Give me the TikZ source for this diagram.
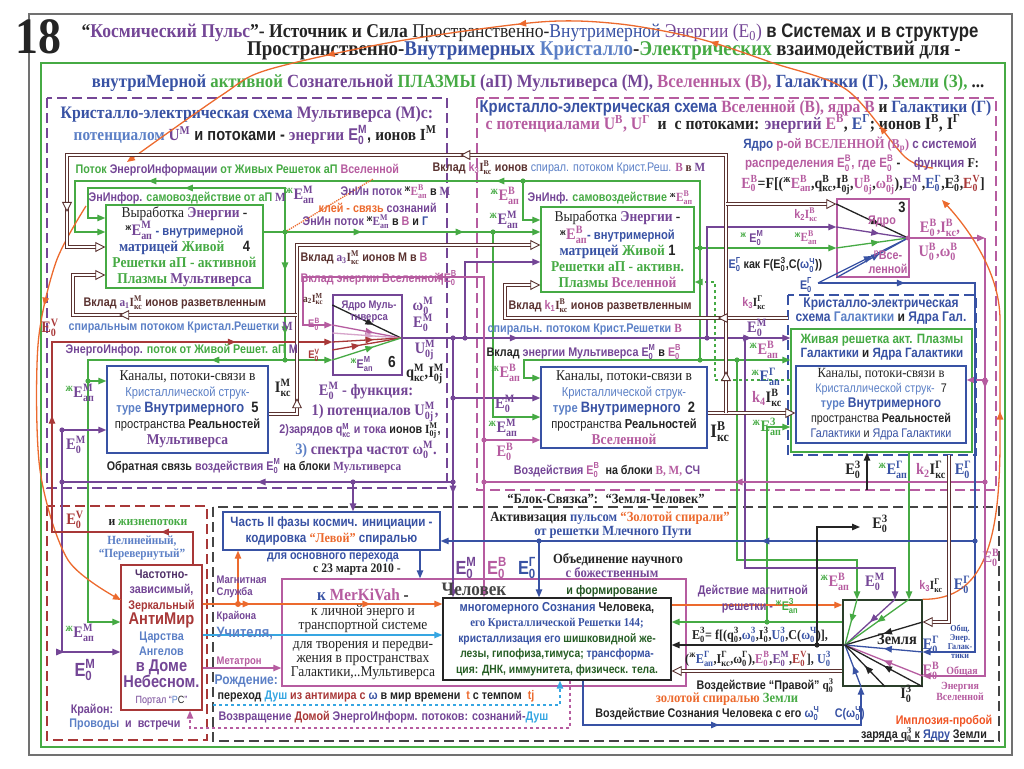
\documentclass[tikz,border=0pt]{standalone}
\usepackage{amsmath}
\usepackage{fontspec}
\setmainfont[FakeStretch=0.9]{Liberation Serif}
\setsansfont[FakeStretch=0.86]{Liberation Sans}
\usetikzlibrary{arrows.meta,decorations.markings}

\definecolor{mv}{RGB}{116,70,150}
\definecolor{vs}{RGB}{182,92,160}
\definecolor{gl}{RGB}{56,82,164}
\definecolor{kr}{RGB}{92,128,198}
\definecolor{zg}{RGB}{70,170,68}
\definecolor{br}{RGB}{90,50,48}
\definecolor{rt}{RGB}{168,56,56}
\definecolor{og}{RGB}{236,106,46}
\definecolor{cy}{RGB}{54,166,226}
\definecolor{dk}{RGB}{36,36,36}

\newcommand{\ee}[3]{\ensuremath{\textbf{#1}^{\textbf{#2}}_{\textbf{#3}}}}

\tikzset{
  lab/.style={inner sep=0.5pt,text=dk,font=\sffamily\bfseries\fontsize{12.5}{14}\selectfont},
  klein/.style={lab,font=\sffamily\bfseries\fontsize{11}{12}\selectfont},
  gross/.style={lab,font=\rmfamily\bfseries\fontsize{16}{17}\selectfont},
  box/.style={draw,line width=1.4pt,fill=white,inner sep=0pt,align=center,text=dk,font=\sffamily\bfseries\fontsize{13}{16}\selectfont},
  rahmen/.style={line width=1.3pt,dash pattern=on 10pt off 5pt},
  fl/.style={line width=1.3pt},
  spitze/.style={-{Triangle[length=8pt,width=6.5pt]}},
  mitte/.style={postaction={decorate,decoration={markings,mark=at position #1 with {\arrow{Triangle[length=8pt,width=6.5pt]}}}}},
  mitte/.default=0.5,
  dop/.style={draw=br,line width=0.9pt,double=white,double distance=2.2pt},
  dpf/.style={-{Triangle[fill=white,length=10pt,width=10pt,line width=0.9pt]}},
  dmitte/.style={postaction={decorate,decoration={markings,mark=at position #1 with {\arrow{Triangle[fill=white,length=10pt,width=10pt,line width=0.9pt]}}}}},
}

\begin{document}
\begin{tikzpicture}[x=1pt,y=-1pt]
\useasboundingbox (0,0) rectangle (1024,768);

% Rahmen
\draw[dk!65,line width=1.4pt] (29,14) rectangle (1012,755);
\draw[zg,line width=1.4pt] (41,63) rectangle (1005,747);
\draw[rahmen,mv] (47,98) rectangle (447,488);
\draw[rahmen,vs] (477,98) rectangle (996,490);
\draw[rahmen,gl] (788,295) rectangle (976,455);
\draw[rahmen,dk!85] (213,507) rectangle (999,741);
\draw[rahmen,rt] (47,506) rectangle (207,740);

% Kopf
\node[lab,font=\rmfamily\bfseries\fontsize{51}{51}\selectfont] (nummer) at (38,37) {18};
\node[lab,font=\rmfamily\bfseries\fontsize{19.5}{20}\selectfont] (titel) at (530,33) {“\textcolor{mv}{Космический Пульс}”- Источник и Сила {\mdseries Пространственно-\textcolor{gl}{Внутримерной} \textcolor{mv}{Энергии (E\textsubscript{0})}} {\sffamily в Системах и в структуре}};
\node[lab,font=\rmfamily\bfseries\fontsize{21}{21}\selectfont] (titelzwei) at (604,51) {Пространственно-\textcolor{gl}{Внутримерных} \textcolor{kr}{Кристалло}-\textcolor{zg}{Электрических} взаимодействий для -};
\node[lab,font=\rmfamily\bfseries\fontsize{18.6}{19}\selectfont] (plasma) at (538,83) {\textcolor{gl}{внутриМерной} \textcolor{zg}{активной} \textcolor{mv}{Сознательной} \textcolor{zg}{ПЛАЗМЫ} \textcolor{mv}{(аП) Мультиверса (М),} \textcolor{vs}{Вселенных (В),} \textcolor{gl}{Галактики (Г),} \textcolor{zg}{Земли (З),} ...};

% Ueberschriften
\node[lab,anchor=west,font=\rmfamily\bfseries\fontsize{17.5}{18}\selectfont] (kopfmulti) at (60,114) {\textcolor{gl}{Кристалло-электрическая схема} \textcolor{mv}{Мультиверса (М)с:}};
\node[lab,anchor=west,font=\sffamily\bfseries\fontsize{17}{18}\selectfont] (potmulti) at (73,135) {{\rmfamily\textcolor{kr}{потенциалом} \textcolor{mv}{U\textsuperscript{М}}} и потоками - {\rmfamily\textcolor{mv}{энергии}} \textcolor{mv}{\ee{E}{М}{0}}, {\rmfamily ионов \ee{I}{М}{}}};
\node[lab,anchor=west,font=\sffamily\bfseries\fontsize{17.2}{18}\selectfont] (kopfall) at (479,108) {\textcolor{gl}{Кристалло-электрическая схема} {\rmfamily\textcolor{vs}{Вселенной (В), ядра В} и \textcolor{gl}{Галактики (Г)}}};
\node[lab,anchor=west,font=\rmfamily\bfseries\fontsize{17.5}{18}\selectfont] (potall) at (485,124) {\textcolor{vs}{с потенциалами U\textsuperscript{В}, U\textsuperscript{Г}} \ и \ с потоками: \textcolor{mv}{энергий} \textcolor{vs}{\ee{E}{В}{}}, \textcolor{gl}{\ee{E}{Г}{}}; ионов \ee{I}{В}{}, \ee{I}{Г}{}};

% Bloecke
\node[box,draw=zg,minimum width=157pt,minimum height=83pt] (matrixmulti) at (184.5,246.5) {%
{\rmfamily\mdseries\fontsize{15}{16}\selectfont Выработка \bfseries\textcolor{mv}{Энергии} -}\\
{\textsuperscript{ж}{\rmfamily\fontsize{16}{16}\selectfont\textcolor{mv}{\ee{E}{М}{ап}}} \textcolor{gl}{- внутримерной}}\\
{\rmfamily\fontsize{15}{16}\selectfont\textcolor{gl}{матрицей} \textcolor{zg}{Живой} \quad{\sffamily 4}}\\
{\rmfamily\fontsize{15}{16}\selectfont\textcolor{zg}{Решетки аП - активной}}\\
{\rmfamily\fontsize{15}{16}\selectfont\textcolor{zg}{Плазмы} \textcolor{mv}{Мультиверса}}};
\node[box,draw=zg,minimum width=153pt,minimum height=85pt] (matrixall) at (617.5,249.5) {%
{\rmfamily\mdseries\fontsize{15}{16}\selectfont Выработка \bfseries\textcolor{mv}{Энергии} -}\\
{\textsuperscript{ж}{\rmfamily\fontsize{16}{16}\selectfont\textcolor{vs}{\ee{E}{В}{ап}}}\textcolor{gl}{- внутримерной}}\\
{\rmfamily\fontsize{15}{16}\selectfont\textcolor{gl}{матрицей} \textcolor{zg}{Живой} {\sffamily 1}}\\
{\rmfamily\fontsize{15}{16}\selectfont\textcolor{zg}{Решетки аП - активн.}}\\
{\rmfamily\fontsize{15}{16}\selectfont\textcolor{zg}{Плазмы} \textcolor{vs}{Вселенной}}};
\node[box,draw=vs,minimum width=72pt,minimum height=78pt] (kernall) at (873,238) {};
\node[box,draw=mv,minimum width=69pt,minimum height=80pt] (kernmulti) at (367.5,335) {};
\node[box,draw=gl,minimum width=161pt,minimum height=87pt] (kanalmulti) at (187.5,409.5) {%
{\rmfamily\mdseries\fontsize{15}{16}\selectfont Каналы, потоки-связи в}\\
{\mdseries\textcolor{kr}{Кристаллической струк-}}\\
{\textcolor{kr}{туре} \fontsize{15}{16}\selectfont\textcolor{gl}{Внутримерного} \ 5}\\
{\mdseries пространства \bfseries Реальностей}\\
{\rmfamily\fontsize{15}{16}\selectfont\textcolor{mv}{Мультиверса}}};
\node[box,draw=gl,minimum width=166pt,minimum height=81pt] (kanalall) at (624,407.5) {%
{\rmfamily\mdseries\fontsize{15}{16}\selectfont Каналы, потоки-связи в}\\
{\mdseries\textcolor{kr}{Кристаллической струк-}}\\
{\textcolor{kr}{туре} \fontsize{15}{16}\selectfont\textcolor{gl}{Внутримерного} \ 2}\\
{\mdseries пространства \bfseries Реальностей}\\
{\rmfamily\fontsize{15}{16}\selectfont\textcolor{vs}{Вселенной}}};
\node[box,draw=zg,minimum width=181pt,minimum height=123pt] (galaxie) at (881.5,390.5) {};
\node[box,draw=gl,minimum width=170pt,minimum height=77pt,font=\sffamily\bfseries\fontsize{12.5}{15}\selectfont] (kanalgal) at (881,404.5) {%
{\rmfamily\mdseries\fontsize{14}{15}\selectfont Каналы, потоки-связи в}\\
{\mdseries\textcolor{kr}{Кристаллической струк-} \ 7}\\
{\textcolor{kr}{туре} \fontsize{14}{15}\selectfont\textcolor{gl}{Внутримерного}}\\
{\mdseries пространства \bfseries Реальностей}\\
{\mdseries\textcolor{gl}{Галактики} и \textcolor{gl}{Ядра Галактики}}};
\node[box,draw=rt,minimum width=81pt,minimum height=145pt,font=\sffamily\bfseries\fontsize{12.5}{15.5}\selectfont] (antimir) at (161.5,637.5) {%
{\textcolor{mv!70!black}{Частотно-}}\\
{\textcolor{mv}{зависимый,}}\\
{\textcolor{rt}{Зеркальный}}\\
{\fontsize{17}{18}\selectfont\textcolor{rt}{АнтиМир}}\\
{\textcolor{kr}{Царства}}\\
{\textcolor{kr}{Ангелов}}\\
{\fontsize{17}{18}\selectfont\textcolor{mv}{в Доме}}\\
{\fontsize{17}{18}\selectfont\textcolor{mv}{Небесном.}}\\
{\fontsize{10.5}{11}\selectfont\mdseries\textcolor{mv}{Портал “\textcolor{kr}{P}\textcolor{dk}{C}”}}};
\node[box,draw=vs,fill=none,minimum width=404pt,minimum height=107pt] (merkivah) at (484,632.5) {};
\node[box,draw=dk,minimum width=228pt,minimum height=82pt,font=\sffamily\bfseries\fontsize{12}{15.5}\selectfont] (mensch) at (557,639) {%
{\fontsize{13}{15}\selectfont\textcolor{gl}{многомерного Сознания} Человека,}\\
{\rmfamily\textcolor{gl}{его Кристаллической Решетки 144;}}\\
{\textcolor{gl}{кристаллизация его} \textcolor{zg!55!black}{шишковидной же-}}\\
{\textcolor{zg!55!black}{лезы, гипофиза,тимуса;} \textcolor{gl}{трансформа-}}\\
{\textcolor{zg!55!black}{ция: ДНК, иммунитета, физическ. тела.}}};
\node[box,draw=gl,minimum width=217pt,minimum height=38pt,text=gl,font=\sffamily\bfseries\fontsize{13.5}{16}\selectfont] (phasezwei) at (331.5,531) {%
Часть II фазы космич. инициации -\\
кодировка {\rmfamily\textcolor{og}{“Левой”}} спиралью};
\node[box,draw=dk!80!zg,minimum width=79pt,minimum height=86pt] (erde) at (882.5,643) {};

% Koordinaten
\coordinate (kmk) at (401,338);
\coordinate (kvk) at (908,238);
\coordinate (zk) at (845,645);
\coordinate (gA) at (285,232);
\coordinate (gB) at (700,248);
\coordinate (gC) at (700,360);
\coordinate (gD) at (285,360);
\coordinate (gE) at (493,232);
\coordinate (gF) at (767,622);
\coordinate (gG) at (737,360);
\coordinate (gH) at (523,181);
\coordinate (mA) at (453,338);
\coordinate (mB) at (465,338);
\coordinate (mC) at (707,338);
\coordinate (mD) at (745,338);
\coordinate (mE) at (453,482);
\coordinate (mF) at (62,482);
\coordinate (mG) at (353,482);
\coordinate (mH) at (62,430);
\coordinate (mI) at (453,398);
\coordinate (pA) at (985,238);
\coordinate (pB) at (985,380);
\coordinate (pC) at (985,482);
\coordinate (pD) at (484,482);
\coordinate (pE) at (484,440);
\coordinate (bA) at (975,541);
\coordinate (bB) at (539,541);
\coordinate (bC) at (818,283);
\coordinate (oA) at (238,604);
\coordinate (oZ) at (121,600);
\coordinate (dA) at (726,413);
\coordinate (dB) at (726,204);
\coordinate (dC) at (297,315);
\coordinate (dD) at (297,414);
\coordinate (dE) at (788,318);
\coordinate (dF) at (949,455);
\coordinate (kA) at (817,645);

% Plasma (gruen)
\draw[zg,fl] (matrixall.east|-gB) -- (gB);
\draw[zg,fl,spitze] (gB) -- (kernall.west|-gB);
\draw[zg,fl,mitte=0.35,mitte=0.8,spitze] (gB) -- (700,181) -- (75,181) -- (75,232) -- (matrixmulti.west|-gA);
\draw[zg,fl,spitze] (gH) -- (523,220) -- (matrixall.west|-0,220);
\draw[zg,fl] (matrixmulti.east|-gA) -- (gA);
\draw[zg,fl,mitte,spitze] (gA) -- (285,188) -- (88,188) -- (88,218) -- (matrixmulti.west|-0,218);
\draw[zg,fl,mitte=0.3,mitte=0.7,spitze] (gA) -- (matrixall.west|-gA);
\draw[zg,fl,mitte=0.3,mitte=0.8] (gA) -- (gD);
\draw[zg,fl,spitze] (gD) -- (kernmulti.west|-gD);
\draw[zg,fl,mitte=0.15,spitze] (gD) -- (88,360) -- (88,622) -- (antimir.west|-0,622);
\draw[zg,fl,spitze] (88,381) -- (kanalmulti.west|-0,381);
\draw[zg,fl,spitze] (gE) -- (493,417) -- (kanalall.west|-0,417);
\draw[zg,fl] (gB) -- (gC);
\draw[zg,fl,spitze] (gC) -- (524,360) -- (524,378) -- (kanalall.west|-0,378);
\draw[zg,fl,spitze] (gC) -- (galaxie.west|-gC);
\draw[zg,fl,spitze] (gG) -- (737,560) -- (857,560) -- (857,0|-erde.north);
\draw[zg,fl,dashed,spitze] (galaxie.west|-0,380) -- (715,380) -- (715,282) -- (matrixall.east|-0,282);
\draw[zg,fl,spitze] (909,0|-galaxie.south) -- (909,0|-erde.north);
\draw[zg,fl,spitze] (erde.west|-gF) -- (mensch.east|-gF);
\draw[zg,fl,spitze] (gF) -- (767,427) -- (galaxie.west|-0,427);

% Energie Multiversum (lila)
\draw[mv,fl,mitte=0.3,mitte=0.9,spitze] (kmk) -- (galaxie.west|-kmk);
\draw[mv,fl,mitte=0.6,spitze] (mA) -- (453,0|-mensch.north);
\draw[mv,fl,spitze] (mI) -- (kanalall.west|-mI);
\draw[mv,fl,mitte] (mE) -- (mF);
\draw[mv,fl,mitte=0.8,spitze] (mH) -- (62,652) -- (antimir.west|-0,652);
\draw[mv,fl,spitze] (mH) -- (kanalmulti.west|-mH);
\draw[mv,fl,spitze] (mG) -- (353,0|-phasezwei.north);
\draw[mv,fl,spitze] (mB) -- (465,262) -- (matrixall.west|-0,262);
\draw[mv,fl,spitze] (mC) -- (707,227) -- (kernall.west|-0,227);
\draw[mv,fl,spitze] (mD) -- (745,568) -- (895,568) -- (895,0|-erde.north);

% Energie Universum (rosa)
\draw[vs,fl,spitze] (kvk) -- (pA);
\draw[vs,fl,mitte=0.3,spitze] (pA) -- (985,676) -- (erde.east|-0,676);
\draw[vs,fl,spitze] (pB) -- (kanalgal.east|-pB);
\draw[vs,fl,mitte] (pC) -- (pD);
\draw[vs,fl,mitte=0.55,spitze] (pD) -- (484,277) -- (303,277) -- (303,325) -- (kernmulti.west|-0,325);
\draw[vs,fl,spitze] (pE) -- (kanalall.west|-pE);
\draw[vs,fl,spitze] (pD) -- (484,0|-mensch.north);
\draw[vs,fl,dashed,spitze] (570,0|-mensch.south) -- (570,728) -- (190,728) -- (190,0|-antimir.south);
\draw[vs,fl,spitze] (antimir.east|-0,668) -- (merkivah.west|-0,668);

% Galaxie (blau)
\draw[gl,fl,mitte=0.15,spitze] (bC) -- (975,283) -- (975,652) -- (erde.east|-0,652);
\draw[gl,fl,mitte=0.4,spitze] (bA) -- (phasezwei.east|-bA);
\draw[gl,fl,spitze] (bB) -- (539,0|-mensch.north);
\draw[gl,fl,spitze] (420,0|-phasezwei.south) -- (420,0|-merkivah.north);
\draw[gl,fl,mitte,spitze] (583,0|-mensch.south) -- (583,725) -- (861,725) -- (861,0|-erde.south);

% Puls (orange), Rot, Cyan
\draw[og,fl,mitte=0.2,mitte=0.7,spitze] (antimir.east|-oA) -- (merkivah.west|-oA) -- (mensch.west|-oA);
\draw[og,fl,spitze] (oA) -- (238,0|-phasezwei.south);
\draw[og,fl,spitze] (mensch.east|-0,605) -- (erde.west|-0,605);
\draw[og,fl,mitte=0.5,spitze] (erde.north east) .. controls (985,600) and (1000,540) .. (1000,440) -- (1000,320) .. controls (1000,270) and (965,225) .. (942,200);
\draw[og,fl,mitte=0.08,mitte=0.3,mitte=0.52,mitte=0.74,spitze] plot[smooth] coordinates {(933,168) (905,157) (847,90) (773,63) (700,39) (620,24) (540,22) (393,42) (267,70) (222,95) (127,162)};
\draw[og,fl,mitte=0.25,spitze] plot[smooth] coordinates {(86,206) (56,262) (38,345) (40,470) (68,560) (oZ)};
\draw[og,densely dotted,line width=1.3pt] (gA) -- (373,179);
\draw[rt,fl,mitte=0.1,mitte=0.45,mitte=0.85,spitze] (193,0|-antimir.north) -- (193,532) -- (52,532) -- (52,342) -- (kernmulti.west|-0,342);
\draw[cy,fl,spitze] (antimir.east|-0,635) -- (mensch.west|-0,635);
\draw[cy,fl,dashed,spitze] (213,705) -- (560,705) -- (560,0|-mensch.south);

% Ionen (doppelt)
\draw[dop,dpf] (kanalall.east|-dA) -- (kanalgal.west|-dA);
\draw[dop,dmitte=0.04,dmitte=0.5,dmitte=0.93,dpf] (dA) -- (726,155) -- (67,155) -- (67,247) -- (matrixmulti.west|-0,247);
\draw[dop,dpf] (dB) -- (kernall.west|-dB);
\draw[dop,dmitte=0.2,dpf] (dE) -- (505,318) -- (505,285) -- (matrixall.west|-0,285);
\draw[dop,dmitte=0.1,dpf] (kanalmulti.east|-dD) -- (dD) -- (297,245) -- (matrixall.west|-0,245);
\draw[dop,dmitte=0.6,dpf] (dC) -- (73,315) -- (73,275) -- (matrixmulti.west|-0,275);
\draw[dop,dpf] (dF) -- (949,622) -- (erde.east|-0,622);
\draw[dop,dpf] (erde.west|-0,671) -- (mensch.east|-0,671);

% Schwarz
\draw[dk,fl,spitze] (zk) -- (mensch.east|-zk);
\draw[dk,fl,spitze] (kA) -- (817,527) -- (860,527);
\draw[dk,fl,spitze] (867,490) -- (867,0|-galaxie.south);

% Kerne
\draw[dk,fl,mitte=0.6] (kernmulti.west|-0,305) -- (kmk);
\draw[vs,fl,mitte=0.6] (kernmulti.west|-0,325) -- (kmk);
\draw[vs!55,fl,mitte=0.6] (kernmulti.west|-0,333) -- (kmk);
\draw[rt,fl,mitte=0.6] (kernmulti.west|-0,342) -- (kmk);
\draw[rt,fl,mitte=0.4] (kernmulti.west|-0,350) -- (kmk);
\draw[zg,fl,mitte=0.6] (kernmulti.west|-gD) -- (kmk);
\draw[dk,fl,mitte=0.6] (kernall.west|-dB) -- (kvk);
\draw[mv,fl,mitte=0.6] (kernall.west|-0,227) -- (kvk);
\draw[zg,fl,mitte=0.6] (kernall.west|-gB) -- (kvk);
\draw[gl,fl,mitte=0.6] (bC) -- (kvk);
\draw[gl,fl,mitte=0.6] (kernall.south west) -- (kvk);
\draw[zg,fl,mitte] (857,0|-erde.north) -- (zk);
\draw[mv,fl,mitte] (895,0|-erde.north) -- (zk);
\draw[zg,fl,mitte] (909,0|-erde.north) -- (zk);
\draw[dk,fl,mitte] (erde.east|-0,622) -- (zk);
\draw[gl,fl,mitte] (erde.east|-0,652) -- (zk);
\draw[vs,fl,mitte] (erde.east|-0,676) -- (zk);
\draw[gl,fl,mitte] (861,0|-erde.south) -- (zk);
\draw[dk,fl,mitte] (885,0|-erde.south) -- (zk);
\draw[dk,fl,mitte] (erde.south east) -- (zk);

% Punkte
\fill[zg] (gA) circle (2.6) (gB) circle (2.6) (gC) circle (2.6) (gD) circle (2.6) (gE) circle (2.6) (gF) circle (2.6) (gG) circle (2.6) (gH) circle (2.6) (88,381) circle (2.6);
\fill[mv] (mA) circle (2.6) (mB) circle (2.6) (mC) circle (2.6) (mD) circle (2.6) (mE) circle (2.6) (mF) circle (2.6) (mG) circle (2.6) (mH) circle (2.6) (mI) circle (2.6);
\fill[vs] (kvk) circle (2.4) (pB) circle (2.6) (pC) circle (2.6) (pD) circle (2.6) (pE) circle (2.6);
\fill[gl] (bA) circle (2.6) (bB) circle (2.6);
\fill[og] (oA) circle (3);
\fill[dk] (kA) circle (2.6);

% Texte Multiversum
\node[lab,anchor=west,text=zg] (lpotok) at (75,170) {Поток \textcolor{mv}{ЭнергоИнформации} от Живых Решеток аП \textcolor{vs}{Вселенной}};
\node[lab,anchor=west,text=zg] (lsamo) at (88,198) {\textcolor{mv}{ЭнИнфор.} самовоздействие от аП {\rmfamily\textcolor{mv}{М}}};
\node[gross] (lemap) at (300,195) {\textcolor{zg}{\textsuperscript{ж}}\textcolor{mv}{\ee{E}{М}{ап}}};
\node[lab,anchor=west] (lenin) at (340,192) {\textcolor{mv}{ЭнИн поток} \textsuperscript{ж}{\rmfamily\textcolor{vs}{\ee{E}{В}{ап}}} в {\rmfamily\textcolor{mv}{М}}};
\node[lab,anchor=west] (lklei) at (318,208) {\textcolor{og}{клей - связь} \textcolor{mv}{сознаний}};
\node[lab,anchor=west] (leninb) at (302,222) {\textcolor{mv}{ЭнИн поток} \textsuperscript{ж}{\rmfamily\textcolor{mv}{\ee{E}{М}{ап}}} в \textcolor{vs}{В} и \textcolor{gl}{Г}};
\node[lab,anchor=west,text=br] (la) at (300,258) {Вклад {\rmfamily\textcolor{mv}{a\textsubscript{3}}\ee{I}{М}{кс}} ионов М в \textcolor{vs}{В}};
\node[lab,anchor=west,text=vs] (lvkladv) at (300,278) {Вклад энергии Вселенной|\ee{E}{В}{0}};
\node[lab,anchor=west,text=br] (laeins) at (83,303) {Вклад {\rmfamily\textcolor{mv}{a\textsubscript{1}}\ee{I}{М}{кс}} ионов разветвленным};
\node[lab,anchor=west,text=kr] (lspir) at (68,327) {спиральным потоком Кристал.Решетки {\rmfamily\textcolor{mv}{М}}};
\node[lab,anchor=west,text=zg] (lenerg) at (65,350) {\textcolor{mv}{ЭнергоИнфор.} поток от Живой Решет. аП \textcolor{mv}{М}};
\node[klein,text=br] (lazwei) at (313,299) {{\rmfamily a\textsubscript{2}\ee{I}{М}{кс}}};
\node[klein,text=vs] (lebsechs) at (314,324) {\ee{E}{В}{0}};
\node[klein,text=rt] (levsechs) at (314,355) {\ee{E}{V}{0}};
\node[klein,text=mv,align=center] (ljm) at (369,312) {Ядро Муль-\\тиверса};
\node[lab,font=\sffamily\bfseries\fontsize{16}{16}\selectfont] (nrsechs) at (392,362) {6};
\node[lab] (lemapsechs) at (362,364) {\textcolor{zg}{\textsuperscript{ж}}\textcolor{mv}{\ee{E}{М}{ап}}};
\node[gross,text=mv] (lom) at (423,306) {\ee{ω}{М}{0}};
\node[gross,text=mv] (lem) at (423,323) {\ee{E}{М}{0}};
\node[gross,text=mv] (lum) at (425,350) {\ee{U}{М}{0j}};
\node[gross] (lqm) at (425,374) {\ee{q}{М}{кс},\ee{I}{М}{0j}};
\node[gross] (limk) at (283,388) {\ee{I}{М}{кс}};
\node[gross,text=mv] (lfunk) at (366,391) {\ee{E}{М}{0} - функция:};
\node[gross,text=mv] (lfeins) at (375,412) {1) потенциалов \ee{U}{М}{0j},};
\node[lab] (lfzwei) at (360,431) {\textcolor{mv}{2)зарядов \ee{q}{М}{кс}} \textcolor{mv}{и тока} ионов {\rmfamily\ee{I}{М}{0j}},};
\node[gross,text=mv] (lfdrei) at (366,450) {\textcolor{kr}{3)} спектра частот \ee{ω}{М}{0}.};
\node[lab] (lobr) at (254,466) {Обратная связь \textcolor{mv}{воздействия \ee{E}{М}{0}} на блоки {\rmfamily\textcolor{mv}{Мультиверса}}};
\node[gross] (lemapl) at (80,393) {\textcolor{zg}{\textsuperscript{ж}}\textcolor{mv}{\ee{E}{М}{ап}}};
\node[gross,text=mv] (lemnull) at (76,445) {\ee{E}{М}{0}};
\node[gross,text=rt] (levl) at (50,328) {\ee{E}{V}{0}};

% Texte Universum
\node[lab,anchor=west,text=br] (lkdrei) at (432,168) {Вклад \textcolor{vs}{k\textsubscript{3}}{\rmfamily\ee{I}{В}{кс}} ионов \textcolor{kr}{\mdseries спирал. потоком Крист.Реш.} {\rmfamily\textcolor{vs}{В} в \textcolor{mv}{М}}};
\node[gross] (lebap) at (505,196) {\textcolor{zg}{\textsuperscript{ж}}\textcolor{vs}{\ee{E}{В}{ап}}};
\node[lab,anchor=west] (lsamov) at (527,198) {\textcolor{mv}{ЭнИнф.} \textcolor{zg}{самовоздействие} {\rmfamily\textsuperscript{ж}\textcolor{vs}{\ee{E}{В}{ап}}}};
\node[gross] (lemapv) at (504,220) {\textcolor{zg}{\textsuperscript{ж}}\textcolor{mv}{\ee{E}{М}{ап}}};
\node[lab,text=vs] (lkzwei) at (806,215) {k\textsubscript{2}{\rmfamily\ee{I}{В}{кс}}};
\node[lab] (lemv) at (752,238) {\textcolor{zg}{\textsuperscript{ж}} \textcolor{mv}{\ee{E}{М}{0}}};
\node[lab] (lebv) at (806,238) {\textcolor{zg}{\textsuperscript{ж}}{\rmfamily\textcolor{vs}{\ee{E}{В}{ап}}}};
\node[lab,anchor=west] (lkak) at (728,265) {\textcolor{gl}{\ee{E}{Г}{0}} как F(\ee{E}{З}{0},C(\textcolor{gl}{\ee{ω}{Ч}{0}}))};
\node[lab,text=gl] (legv) at (806,285) {\ee{E}{Г}{0}};
\node[lab,text=vs] (ljadro) at (882,221) {Ядро};
\node[lab,font=\sffamily\bfseries\fontsize{15}{15}\selectfont] (nrdrei) at (902,207) {3};
\node[lab,text=vs,align=center] (lvse) at (888,262) {\textsuperscript{р}Все-\\ленной};
\node[gross,text=vs] (lebi) at (940,228) {\ee{E}{В}{0},\ee{I}{В}{кс},};
\node[gross,text=vs] (lebu) at (938,252) {\ee{U}{В}{0},\ee{ω}{В}{0}};
\node[lab,font=\sffamily\bfseries\fontsize{13.5}{15}\selectfont] (lkern) at (860,145) {\textcolor{gl}{Ядро} \textcolor{vs}{р-ой} {\rmfamily\textcolor{vs}{ВСЕЛЕННОЙ (В\textsubscript{р})}} \textcolor{mv}{с системой}};
\node[lab,font=\sffamily\bfseries\fontsize{13.5}{15}\selectfont] (lvert) at (862,163) {\textcolor{vs}{распределения \ee{E}{В}{0}, где \ee{E}{В}{0}} -\quad \textcolor{mv}{функция} {\rmfamily F:}};
\node[lab,font=\rmfamily\bfseries\fontsize{15.5}{16}\selectfont] (lformel) at (863,185) {\textcolor{vs}{\ee{E}{В}{0}}=F[(\textsuperscript{ж}\textcolor{vs}{\ee{E}{В}{ап}},\ee{q}{В}{кс},\ee{I}{В}{0j},\textcolor{vs}{\ee{U}{В}{0j}},\textcolor{vs}{\ee{ω}{В}{0j}}),\textcolor{mv}{\ee{E}{М}{0}},\textcolor{gl}{\ee{E}{Г}{0}},\ee{E}{З}{0},\textcolor{rt}{\ee{E}{V}{0}}]};
\node[lab,anchor=west,text=br] (lkeins) at (508,306) {Вклад \textcolor{vs}{k\textsubscript{1}}{\rmfamily\ee{I}{В}{кс}} ионов разветвленным};
\node[lab,anchor=west,text=kr] (lspirv) at (487,329) {спиральн. потоком Крист.Решетки {\rmfamily\textcolor{vs}{В}}};
\node[lab,anchor=west] (lvkladm) at (486,352) {Вклад \textcolor{mv}{энергии Мультиверса \ee{E}{М}{0}} в \textcolor{vs}{\ee{E}{В}{0}}};
\node[gross] (lebapk) at (506,373) {\textcolor{zg}{\textsuperscript{ж}}\textcolor{vs}{\ee{E}{В}{ап}}};
\node[gross,text=mv] (lemk) at (505,404) {\ee{E}{М}{0}};
\node[gross] (lemapk) at (503,428) {\textcolor{zg}{\textsuperscript{ж}}\textcolor{mv}{\ee{E}{М}{ап}}};
\node[gross,text=vs] (lebk) at (505,452) {\ee{E}{В}{0}};
\node[gross,font=\rmfamily\bfseries\fontsize{19}{19}\selectfont] (libks) at (720,432) {\ee{I}{В}{кс}};
\node[lab] (lvozd) at (607,470) {\textcolor{mv}{Воздействия} \textcolor{vs}{\ee{E}{В}{0}} \ на блоки {\rmfamily\textcolor{vs}{В, М,}} \textcolor{mv}{СЧ}};
\node[lab] (lkdreig) at (754,303) {\textcolor{vs}{k\textsubscript{3}}{\rmfamily\ee{I}{Г}{кс}}};
\node[lab,text=gl,align=center,font=\sffamily\bfseries\fontsize{14}{14}\selectfont] (lkrgal) at (881,311) {Кристалло-электрическая\\схема \textcolor{kr}{Галактики} \textcolor{dk}{и} Ядра Гал.};
\node[gross,text=mv] (lemg) at (757,328) {\ee{E}{М}{0}};
\node[lab,align=center,font=\sffamily\bfseries\fontsize{13.5}{14}\selectfont] (lziv) at (882,347) {\textcolor{zg}{Живая решетка акт. Плазмы}\\\textcolor{gl}{Галактики} и \textcolor{gl}{Ядра Галактики}};
\node[gross] (lebg) at (764,350) {\textcolor{zg}{\textsuperscript{ж}}\textcolor{vs}{\ee{E}{В}{ап}}};
\node[gross] (legg) at (766,377) {\textcolor{zg}{\textsuperscript{ж}}\textcolor{gl}{\ee{E}{Г}{ап}}};
\node[gross,text=vs] (lkvier) at (767,398) {k\textsubscript{4}\textcolor{dk}{\ee{I}{В}{кс}}};
\node[gross] (lezg) at (767,427) {\textcolor{zg}{\textsuperscript{ж}}\textcolor{zg}{\ee{E}{З}{ап}}};
\node[gross] (leznull) at (853,470) {\ee{E}{З}{0}};
\node[gross] (legap) at (893,470) {\textcolor{zg}{\textsuperscript{ж}}\textcolor{gl}{\ee{E}{Г}{ап}}};
\node[gross] (lkzweig) at (931,470) {\textcolor{vs}{k\textsubscript{2}}\ee{I}{Г}{кс}};
\node[gross,text=gl] (legnull) at (963,470) {\ee{E}{Г}{0}};

% Texte Erde und Mensch
\node[lab,font=\rmfamily\bfseries\fontsize{14}{15}\selectfont] (lblok) at (606,499) {“Блок-Связка”: \ “Земля-Человек”};
\node[lab,font=\rmfamily\bfseries\fontsize{14}{15}\selectfont] (laktiv) at (610,518) {Активизация \textcolor{gl}{пульсом} \textcolor{og}{“Золотой спирали”}};
\node[lab,text=gl,font=\rmfamily\bfseries\fontsize{14}{15}\selectfont] (lmlech) at (613,532) {от решетки Млечного Пути};
\node[gross,font=\sffamily\bfseries\fontsize{19}{19}\selectfont,text=mv] (lemch) at (466,568) {\ee{E}{М}{0}};
\node[gross,font=\sffamily\bfseries\fontsize{19}{19}\selectfont,text=vs] (lebch) at (497,568) {\ee{E}{В}{0}};
\node[gross,font=\sffamily\bfseries\fontsize{19}{19}\selectfont,text=gl] (legch) at (527,568) {\ee{E}{Г}{0}};
\node[lab,font=\rmfamily\bfseries\fontsize{14}{15}\selectfont] (lobjed) at (618,560) {Объединение научного};
\node[lab,text=mv,font=\rmfamily\bfseries\fontsize{14}{15}\selectfont] (lbozh) at (612,573) {с божественным};
\node[lab,text=zg!50!black] (lform) at (612,591) {и формирование};
\node[lab,text=dk!85,font=\rmfamily\bfseries\fontsize{19}{19}\selectfont] (lmensch) at (474,589) {Человек};
\node[lab,text=mv] (ldeistv) at (753,591) {Действие магнитной};
\node[lab,text=mv] (lresh) at (760,606) {решетки - \textcolor{zg}{\textsuperscript{ж}\ee{E}{З}{ап}}};
\node[gross] (lebz) at (835,582) {\textcolor{zg}{\textsuperscript{ж}}\textcolor{vs}{\ee{E}{В}{ап}}};
\node[gross,text=mv] (lemz) at (875,582) {\ee{E}{М}{0}};
\node[lab] (lkdreiz) at (931,586) {\textcolor{vs}{k\textsubscript{3}}{\rmfamily\ee{I}{Г}{кс}}};
\node[gross,text=gl] (legz) at (962,585) {\ee{E}{Г}{0}};
\node[gross,text=vs] (lebrechts) at (991,558) {\ee{E}{В}{0}};
\node[gross] (lezk) at (880,524) {\ee{E}{З}{0}};
\node[lab,font=\rmfamily\bfseries\fontsize{13.5}{14}\selectfont] (lformz) at (760,635) {\ee{E}{З}{0}= f[(\ee{q}{З}{0},\textcolor{gl}{\ee{ω}{З}{0}},\ee{I}{З}{0},\textcolor{gl}{\ee{U}{З}{0}},C(\textcolor{gl}{\ee{ω}{Ч}{0}})],};
\node[lab,font=\rmfamily\bfseries\fontsize{13.5}{14}\selectfont] (lformzz) at (758,659) {(\textsuperscript{ж}\textcolor{gl}{\ee{E}{Г}{ап}},\ee{I}{Г}{кс},\ee{ω}{Г}{0}),\textcolor{vs}{\ee{E}{В}{0}},\textcolor{mv}{\ee{E}{М}{0}},\textcolor{rt}{\ee{E}{V}{0}}], \textcolor{gl}{\ee{U}{З}{0}}};
\node[lab] (lprav) at (765,686) {Воздействие “Правой” {\rmfamily\ee{q}{З}{0}}};
\node[lab,text=og,font=\rmfamily\bfseries\fontsize{14}{15}\selectfont] (lzolot) at (727,699) {золотой спиралью \textcolor{zg}{Земли}};
\node[lab] (lsozn) at (730,714) {Воздействие Сознания Человека с его \textcolor{gl}{\ee{ω}{Ч}{0}} \quad \textcolor{gl}{C(\ee{ω}{Ч}{0})}};
\node[lab,text=og!80!red] (limpl) at (944,721) {Имплозия-пробой};
\node[lab] (lzar) at (924,735) {заряда {\rmfamily\ee{q}{З}{0}} к \textcolor{gl}{Ядру} Земли};
\node[gross] (liz) at (906,694) {\ee{I}{З}{0}};
\node[lab,font=\rmfamily\bfseries\fontsize{16}{16}\selectfont] (lzemlya) at (897,639) {Земля};
\node[gross,text=gl] (legzr) at (931,645) {\ee{E}{Г}{0}};
\node[lab,text=gl,align=center,font=\rmfamily\bfseries\fontsize{9}{9}\selectfont] (lobsch) at (960,642) {Общ.\\Энер.\\Галак-\\тики};
\node[gross,text=vs] (lebzr) at (931,671) {\ee{E}{В}{0}};
\node[lab,text=vs,font=\rmfamily\bfseries\fontsize{11}{11}\selectfont] (lobschaja) at (962,672) {Общая};
\node[lab,text=vs,align=center,font=\rmfamily\bfseries\fontsize{11}{11}\selectfont] (lenvs) at (960,691) {Энергия\\Вселенной};

% Texte Antimir
\node[gross,text=rt] (levu) at (75,520) {\ee{E}{V}{0}};
\node[lab,font=\rmfamily\bfseries\fontsize{13}{14}\selectfont] (lzhizn) at (148,522) {и \textcolor{zg}{жизнепотоки}};
\node[lab,text=kr,align=center,font=\rmfamily\bfseries\fontsize{12.5}{13}\selectfont] (lnelin) at (142,548) {Нелинейный,\\“Перевернутый”};
\node[gross] (lemapa) at (80,633) {\textcolor{zg}{\textsuperscript{ж}}\textcolor{mv}{\ee{E}{М}{ап}}};
\node[gross,font=\sffamily\bfseries\fontsize{19}{19}\selectfont,text=mv] (lemnulla) at (85,670) {\ee{E}{М}{0}};
\node[lab,text=mv] (lkrayon) at (92,710) {Крайон:};
\node[lab,text=mv] (lprovod) at (125,724) {\textcolor{kr}{Проводы} \ и \ встречи};
\node[lab,text=gl] (ldlya) at (333,557) {для основного перехода};
\node[lab,font=\rmfamily\bfseries\fontsize{13}{14}\selectfont] (ldatum) at (357,570) {с 23 марта 2010 -};
\node[klein,text=mv,anchor=west,align=left] (lmagn) at (216,587) {Магнитная\\Служба};
\node[klein,text=mv,anchor=west] (lkraiona) at (216,617) {Крайона};
\node[lab,text=kr,anchor=west,font=\sffamily\bfseries\fontsize{15}{15}\selectfont] (luchit) at (216,633) {Учителя,};
\node[klein,text=vs,anchor=west] (lmetat) at (216,662) {Метатрон};
\node[lab,text=kr,anchor=west,font=\sffamily\bfseries\fontsize{14}{14}\selectfont] (lrozhd) at (214,681) {Рождение:};
\node[lab,anchor=west] (lperehod) at (217,696) {переход \textcolor{cy}{Душ} \textcolor{rt}{из антимира с} \textcolor{gl}{ω} в мир времени \ \textcolor{og}{t} с темпом \ \textcolor{og}{tj}};
\node[lab,anchor=west,text=mv] (lvozvr) at (218,717) {Возвращение \textcolor{rt}{Домой} ЭнергоИнформ. потоков: сознаний-\textcolor{cy}{Душ}};
\node[lab,font=\rmfamily\bfseries\fontsize{17}{17}\selectfont] (lmerki) at (363,595) {\textcolor{gl}{к} \textcolor{vs}{MerKiVah} -};
\node[lab,align=center,font=\rmfamily\fontsize{15}{13}\selectfont] (lmerkio) at (363,619) {к личной энерго и\\транспортной системе};
\node[lab,align=center,font=\rmfamily\fontsize{15}{14}\selectfont] (lmerkiu) at (363,661) {для творения и передви-\\жения в пространствах\\Галактики,..Мультиверса};
\end{tikzpicture}
\end{document}
